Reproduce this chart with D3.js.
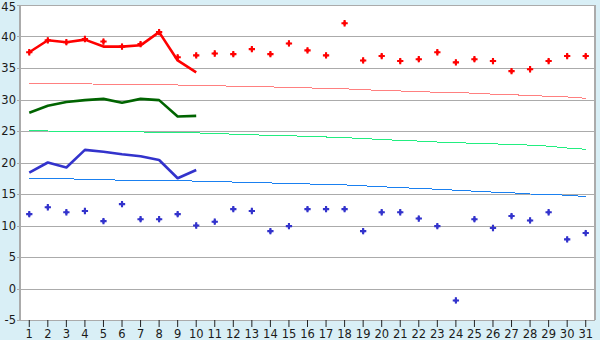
<!DOCTYPE html>
<html>
<head>
<meta charset="utf-8">
<script src="https://cdn.jsdelivr.net/npm/d3@7"></script>
<style>
  body { margin: 0; background: #d9eff6; }
  text { font-family: "DejaVu Sans", Verdana, sans-serif; fill: #1a1a1a; }
</style>
</head>
<body>
<div id="main"></div>
<script>
const ctx = {
    w: 600,
    h: 340,
    left: 20,
    right: 595,
    top: 5,
    bottom: 320
};

const days = [1,2,3,4,5,6,7,8,9,10,11,12,13,14,15,16,17,18,19,20,21,22,23,24,25,26,27,28,29,30,31];
const yTicks = [-5,0,5,10,15,20,25,30,35,40,45];

// daily observed max / min (markers)
const maxTemps = [37.5,39.4,39.1,39.6,39.2,38.4,38.8,40.7,36.7,37.0,37.3,37.2,38.0,37.2,38.9,37.8,37.0,42.1,36.2,36.9,
                  36.1,36.4,37.5,35.9,36.4,36.1,34.5,34.8,36.1,36.9,36.9];
const minTemps = [11.8,12.9,12.1,12.3,10.7,13.4,11.0,11.0,11.8,10.0,10.6,12.6,12.3,9.1,9.9,12.6,12.6,12.6,9.1,12.1,
                  12.1,11.1,9.9,-1.9,11.0,9.6,11.5,10.8,12.1,7.8,8.8];

// thick lines, first ten days only
const maxLine  = [37.5,39.4,39.1,39.5,38.4,38.4,38.6,40.7,36.2,34.3];
const meanLine = [27.9,29.0,29.6,29.9,30.1,29.5,30.1,29.9,27.3,27.4];
const minLine  = [18.4,20.0,19.2,22.0,21.7,21.3,21.0,20.4,17.5,18.8];

// normals (thin lines)
const normMax  = [32.55,32.5,32.5,32.5,32.4,32.4,32.4,32.35,32.3,32.25,32.2,32.1,32.1,32.0,31.9,31.85,31.75,31.7,31.55,31.45,
                  31.35,31.25,31.15,31.1,31.0,30.85,30.75,30.65,30.5,30.4,30.2];
const normMean = [25.05,25.0,24.95,24.95,24.9,24.85,24.85,24.8,24.75,24.7,24.6,24.5,24.4,24.3,24.25,24.15,24.05,23.95,23.8,23.65,
                  23.5,23.4,23.25,23.15,23.05,22.95,22.9,22.75,22.6,22.3,22.1];
const normMin  = [17.5,17.5,17.4,17.35,17.25,17.2,17.2,17.15,17.1,17.05,16.95,16.9,16.8,16.75,16.7,16.6,16.5,16.45,16.3,16.15,
                  16.0,15.9,15.75,15.6,15.45,15.3,15.2,15.0,14.95,14.8,14.6];

const x = d3.scaleBand().domain(days).range([ctx.left, ctx.right]).padding(0);
const y = d3.scaleLinear().domain([-5, 45]).range([ctx.bottom, ctx.top]);
const cx = (d) => x(d) + x.bandwidth() / 2;

function createViz(){
    let svgEl = d3.select("#main").append("svg")
        .attr("width", ctx.w)
        .attr("height", ctx.h);
    svgEl.append("rect")
         .attr("width", ctx.w).attr("height", ctx.h)
         .attr("fill", "#d9eff6");
    svgEl.append("rect")
         .attr("x", ctx.left).attr("y", ctx.top)
         .attr("width", ctx.right - ctx.left)
         .attr("height", ctx.bottom - ctx.top)
         .attr("fill", "white");

    // grid
    svgEl.append("g").selectAll("line")
         .data(yTicks).enter().append("line")
         .attr("x1", ctx.left - 3).attr("x2", ctx.right)
         .attr("y1", d => Math.round(y(d)) + 0.5).attr("y2", d => Math.round(y(d)) + 0.5)
         .attr("stroke", "#ababab")
         .attr("stroke-width", 1.2);
    svgEl.append("line")
         .attr("x1", ctx.left).attr("x2", ctx.left)
         .attr("y1", ctx.top).attr("y2", ctx.bottom)
         .attr("stroke", "#ababab").attr("stroke-width", 2);
    svgEl.append("line")
         .attr("x1", ctx.right).attr("x2", ctx.right)
         .attr("y1", ctx.top).attr("y2", ctx.bottom)
         .attr("stroke", "#ababab").attr("stroke-width", 2);

    // y labels (top one nudged down so it stays inside the picture)
    svgEl.append("g").selectAll("text")
         .data(yTicks).enter().append("text")
         .attr("x", 16).attr("y", d => d == 45 ? y(d) + 1.5 : y(d))
         .attr("dy", "0.36em")
         .attr("text-anchor", "end")
         .style("font-size", "11.5px")
         .text(d => d);

    // x axis
    let xAxis = svgEl.append("g")
         .attr("transform", `translate(0,${ctx.bottom})`)
         .call(d3.axisBottom(x).tickSize(7).tickPadding(3));
    xAxis.select(".domain").remove();
    xAxis.selectAll(".tick line").attr("stroke", "#222");
    xAxis.selectAll(".tick text")
         .style("font-size", "11.5px")
         .style("font-family", "DejaVu Sans, Verdana, sans-serif")
         .attr("fill", "#1a1a1a");

    // normals
    drawLine(svgEl, normMax, "#ff8080", 1, true);
    drawLine(svgEl, normMean, "#22ee80", 1, true);
    drawLine(svgEl, normMin, "#1a80f0", 1, true);

    // thick lines
    drawLine(svgEl, maxLine, "#ff0000", 2.6, false);
    drawLine(svgEl, meanLine, "#006400", 2.6, false);
    drawLine(svgEl, minLine, "#3333cc", 2.6, false);

    // markers
    drawMarkers(svgEl, maxTemps, "#ff0000");
    drawMarkers(svgEl, minTemps, "#3333cc");
}

function drawLine(svgEl, values, color, width, crisp){
    let line = d3.line()
        .x((d, i) => cx(days[i]))
        .y(d => y(d));
    svgEl.append("path")
         .datum(values)
         .attr("d", line)
         .attr("fill", "none")
         .attr("stroke", color)
         .attr("stroke-width", width)
         .attr("stroke-linejoin", "round")
         .attr("shape-rendering", crisp ? "crispEdges" : "auto");
}

function drawMarkers(svgEl, values, color){
    // bold plus with a small diamond core
    let cross = d3.symbol(d3.symbolCross).size(22);
    let core = d3.symbol(d3.symbolDiamond).size(12);
    let g = svgEl.append("g").selectAll("g")
         .data(values).enter().append("g")
         .attr("transform", (d, i) => `translate(${cx(days[i])},${y(d)})`)
         .attr("fill", color);
    g.append("path").attr("d", cross);
    g.append("path").attr("d", core);
}

createViz();
</script>
</body>
</html>
